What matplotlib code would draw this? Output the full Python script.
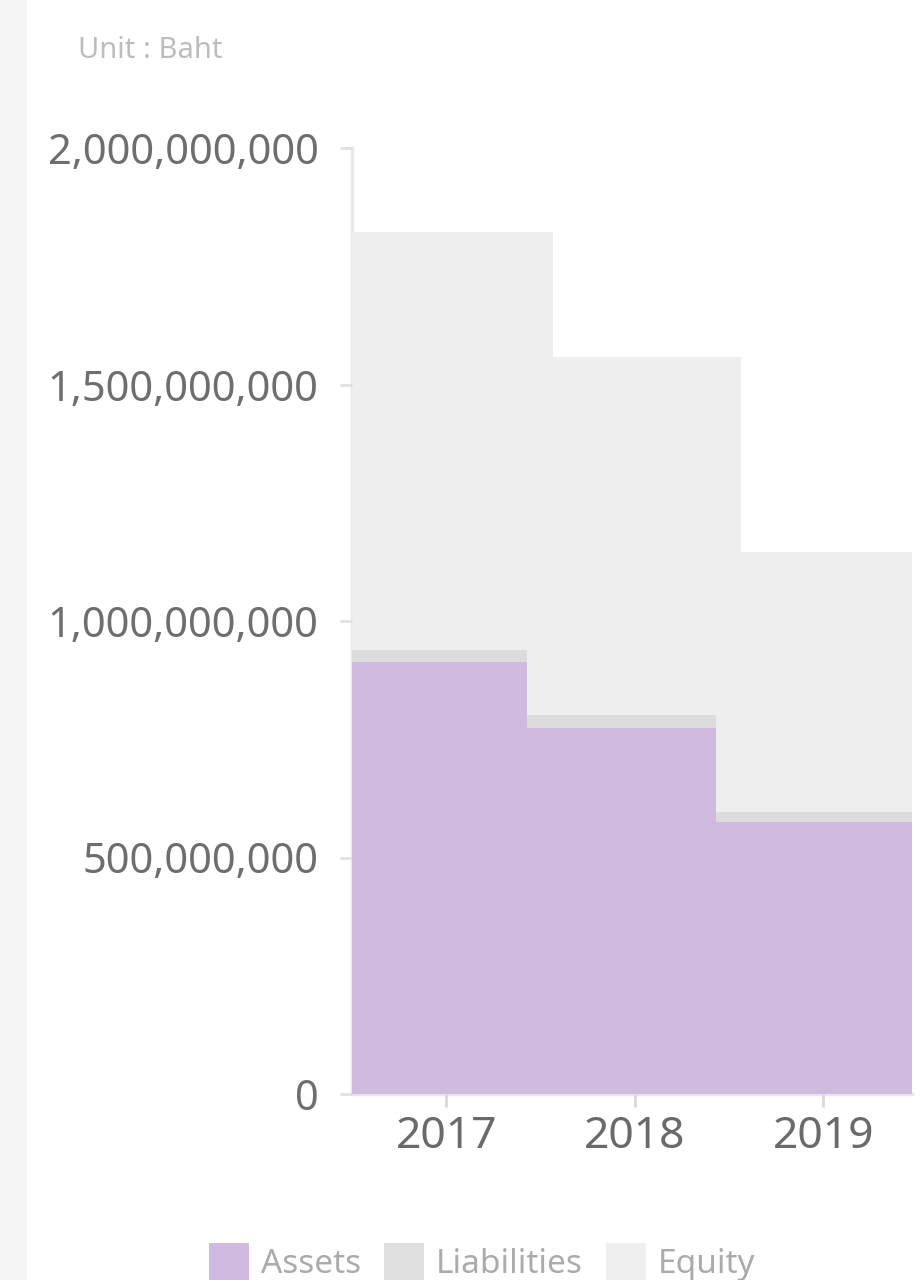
import matplotlib
matplotlib.use("Agg")
import matplotlib.pyplot as plt
from matplotlib.patches import Patch, Rectangle
import numpy as np

# ---- data ----
years = [2017, 2018, 2019]
assets = [913e6, 774e6, 575e6]
liabilities = [25e6, 28e6, 22e6]
equity_total = [1822e6, 1558e6, 1146e6]   # top of the equity area
y_ticks = [0, 500e6, 1000e6, 1500e6, 2000e6]
y_labels = ["0", "500,000,000", "1,000,000,000", "1,500,000,000", "2,000,000,000"]
series_names = ["Assets", "Liabilities", "Equity"]

# ---- style ----
c_assets = "#d1badf"
c_liab = "#dcdcdc"
c_equity = "#eeeeee"
FONT = ["Noto Sans", "DejaVu Sans"]
plt.rcParams["font.family"] = FONT

fig = plt.figure(figsize=(9.24, 12.8), dpi=100)
fig.patches.append(Rectangle((0, 0), 27 / 924, 1, transform=fig.transFigure,
                             facecolor="#f5f5f5", edgecolor="none", zorder=-5))
ax = fig.add_axes([352 / 924, (1280 - 1094) / 1280, 560 / 924, 946 / 1280])

x0, x1 = years[0] - 0.5, years[-1] + 0.47
shift_low = -0.07    # step offset for assets/liabilities
shift_top = 0.065    # step offset for equity

def step_edges(shift):
    e = [x0]
    for a, b in zip(years[:-1], years[1:]):
        e.append((a + b) / 2 + shift)
    e.append(x1)
    return np.array(e)

def step_xy(vals, shift):
    e = step_edges(shift)
    xs, ys = [], []
    for i, v in enumerate(vals):
        xs += [e[i], e[i + 1]]
        ys += [v, v]
    return np.array(xs), np.array(ys)

xa, ya = step_xy(assets, shift_low)
xl, yl = step_xy([a + l for a, l in zip(assets, liabilities)], shift_low)
xe, ye = step_xy(equity_total, shift_top)

ax.fill_between(xe, 0, ye, color=c_equity, lw=0, zorder=1)
ax.fill_between(xl, 0, yl, color=c_liab, lw=0, zorder=2)
ax.fill_between(xa, 0, ya, color=c_assets, lw=0, zorder=3)

ax.set_xlim(years[0] - 0.5, years[-1] + 0.47)
ax.set_ylim(0, 2e9)
ax.set_xticks(years)
ax.set_xticklabels([str(y) for y in years])
ax.set_yticks(y_ticks)
ax.set_yticklabels(y_labels)

for s in ["top", "right"]:
    ax.spines[s].set_visible(False)
for s in ["left", "bottom"]:
    ax.spines[s].set_color("#e8e8e8")
    ax.spines[s].set_linewidth(2.5)
    ax.spines[s].set_zorder(0)

ax.tick_params(axis="y", length=9, width=2, color="#e0e0e0", pad=15,
               labelsize=30, labelcolor="#6e6e6e")
ax.tick_params(axis="x", length=9, width=2, color="#d8d8d8", pad=6,
               labelsize=32, labelcolor="#6a6a6a")
ax.set_facecolor("white")

fig.text(78 / 924, 1 - 50 / 1280, "Unit : Baht", fontsize=21, color="#bdbdbd",
         ha="left", va="center")

handles = [Patch(facecolor=c_assets, edgecolor="none"),
           Patch(facecolor="#e0e0e0", edgecolor="none"),
           Patch(facecolor="#efefef", edgecolor="none")]
leg = fig.legend(handles, series_names, loc="center", ncol=3,
                 bbox_to_anchor=(482 / 924, 1 - 1262 / 1280), frameon=False,
                 fontsize=24, handlelength=1.2, handleheight=1.4,
                 handletextpad=0.35, columnspacing=0.7, borderaxespad=0)
for t in leg.get_texts():
    t.set_color("#ababab")

fig.savefig("out.png", dpi=100)
